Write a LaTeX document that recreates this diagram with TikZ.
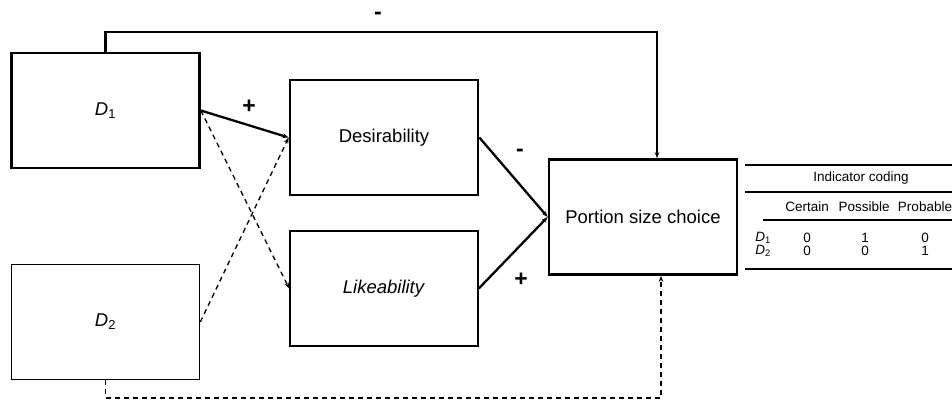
\documentclass[tikz,border=0pt]{standalone}
\usepackage{fontspec}
\setmainfont{Liberation Sans}
\usetikzlibrary{arrows.meta}

\newcommand{\dvar}[1]{\textit{D}\textsubscript{#1}}

\begin{document}
\begin{tikzpicture}[x=1pt, y=-1pt,
    box/.style={draw, line width=2.7pt, minimum width=188pt, minimum height=115pt, font=\fontsize{18.5}{20}\selectfont},
    thinbox/.style={box, line width=1.6pt},
    path/.style={line width=2.3pt, -{Stealth[length=6pt, width=4.5pt]}},
    dpath/.style={line width=1.3pt, dash pattern=on 5pt off 4pt, -{Stealth[length=6pt, width=4.5pt]}},
    sign/.style={font=\bfseries\fontsize{23}{25}\selectfont},
    cell/.style={font=\fontsize{13.5}{15}\selectfont, inner sep=0pt}]
    \useasboundingbox (0,0) rectangle (952,400);

    % Boxes
    \node[box] (D1) at (105.5,110.5) {\dvar{1}};
    \node[thinbox] (D2) at (105.5,322) {\dvar{2}};
    \node[box] (desir) at (384,137.5) {Desirability};
    \node[thinbox] (like) at (384,288.5) {\textit{Likeability}};
    \node[box] (portion) at (643,217) {Portion size choice};

    % Paths via the mediators
    \draw[path] (D1.east) -- (desir.west);
    \draw[dpath] (D1.east) -- (like.west);
    \draw[dpath] (D2.east) -- (desir.west);
    \draw[path] (desir.east) -- (portion.west);
    \draw[path] (like.east) -- (portion.west);
    \node[sign] (plusA) at (249,107) {+};
    \node[sign] (minusB) at (520,153) {-};
    \node[sign] (plusC) at (521,280) {+};

    % Direct paths
    \coordinate (topbend) at (657,32);
    \coordinate (botbend) at (661,398);
    \draw[path] (D1.north) |- (topbend) -- (topbend |- portion.north);
    \draw[dpath] (D2.south) |- (botbend) -- (botbend |- portion.south);
    \node[sign] (minusA) at (378,16) {-};

    % Indicator coding table
    \draw[line width=1.6pt] (745,165) -- (952,165);
    \node[cell] (title) at (861,178) {Indicator coding};
    \draw[line width=1.6pt] (745,192) -- (952,192);
    \node[cell] (hcert) at (807,207) {Certain};
    \node[cell] (hposs) at (864,207) {Possible};
    \node[cell] (hprob) at (925,207) {Probable};
    \draw[line width=1.6pt] (763,220) -- (952,220);
    \node[cell] (r1) at (763,238) {\dvar{1}};
    \node[cell] (r2) at (763,251) {\dvar{2}};
    \node[cell] (c11) at (807,238) {0};
    \node[cell] (c12) at (865,238) {1};
    \node[cell] (c13) at (925,238) {0};
    \node[cell] (c21) at (807,251) {0};
    \node[cell] (c22) at (865,251) {0};
    \node[cell] (c23) at (925,251) {1};
    \draw[line width=1.6pt] (745,269) -- (952,269);
\end{tikzpicture}
\end{document}
